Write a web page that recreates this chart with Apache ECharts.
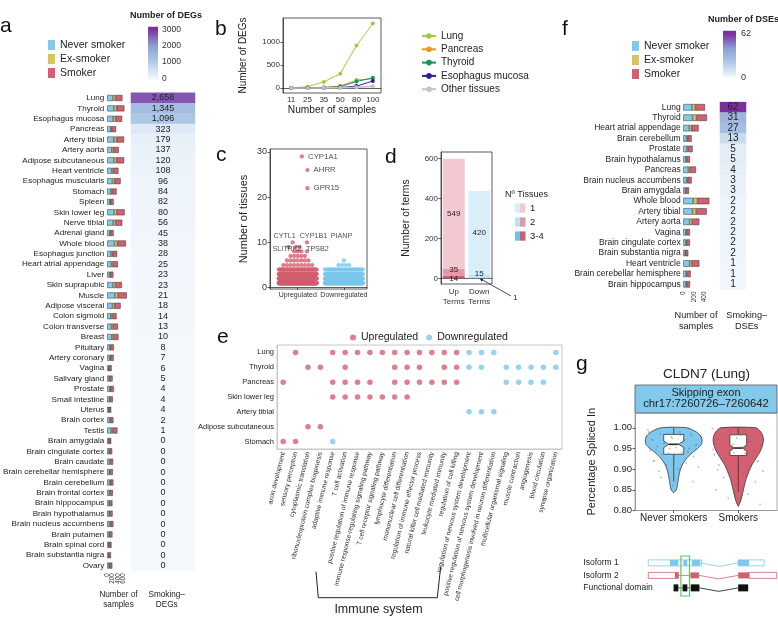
<!DOCTYPE html>
<html lang="en">
<head>
<meta charset="UTF-8">
<title>smoking DEGs / DSEs</title>
<script src="https://cdn.jsdelivr.net/npm/echarts@6/dist/echarts.min.js"></script>
<style>
  html, body { margin: 0; padding: 0; background: #fff; }
  #main { width: 778px; height: 618px; }
</style>
</head>
<body>
<div id="main"></div>
<script>
// ---------- data ----------
// a: smoking DEGs per tissue, samples per smoking status
var tissuesA = ['Lung','Thyroid','Esophagus mucosa','Pancreas','Artery tibial','Artery aorta','Adipose subcutaneous','Heart ventricle','Esophagus muscularis','Stomach','Spleen','Skin lower leg','Nerve tibial','Adrenal gland','Whole blood','Esophagus junction','Heart atrial appendage','Liver','Skin suprapubic','Muscle','Adipose visceral','Colon sigmoid','Colon transverse','Breast','Pituitary','Artery coronary','Vagina','Salivary gland','Prostate','Small intestine','Uterus','Brain cortex','Testis','Brain amygdala','Brain cingulate cortex','Brain caudate','Brain cerebellar hemisphere','Brain cerebellum','Brain frontal cortex','Brain hippocampus','Brain hypothalamus','Brain nucleus accumbens','Brain putamen','Brain spinal cord','Brain substantia nigra','Ovary'];
var degsA = [2656,1345,1096,323,179,137,120,108,96,84,82,80,56,45,38,28,25,23,23,21,18,14,13,10,8,7,6,5,4,4,4,2,1,0,0,0,0,0,0,0,0,0,0,0,0,0];
var neverA = [215,250,220,130,245,170,245,165,195,135,95,255,220,95,270,145,155,90,215,285,195,135,155,165,95,95,60,75,95,80,55,90,150,55,70,85,80,90,80,75,75,90,75,60,50,70];
var exA = [95,105,90,45,105,70,105,65,85,55,35,105,90,40,115,60,65,35,90,115,80,60,65,65,45,40,25,35,40,35,25,40,60,25,30,35,35,40,35,35,35,40,30,25,25,30];
var smokerA = [257,285,245,155,280,190,280,190,220,160,110,290,250,105,315,165,180,105,245,330,225,155,180,190,110,105,80,90,115,95,70,100,170,70,85,100,95,100,95,85,90,100,90,75,65,90];
var sampleTicksA = [0, 200, 400, 600];
var degTicks = [0, 1000, 2000, 3000];

// b: DEGs vs number of samples
var sampleSizes = ['11','25','35','50','80','100'];
var degLung = [0, 25, 130, 310, 920, 1400];
var degPancreas = [0, 5, 10, 40, 170, 200];
var degThyroid = [0, 5, 10, 30, 140, 220];
var degEsoMucosa = [0, 2, 5, 10, 40, 150];
var degOther = [0, 0, 2, 5, 15, 35];

// c: number of tissues per DEG (genes per tissue count, starting at 1 tissue)
var upGenesPerLevel = [520, 260, 130, 55, 9, 7, 5, 3, 2];
var downGenesPerLevel = [440, 220, 100, 40, 4];
var geneNames = ['CYP1A1','AHRR','GPR15','CYTL1','CYP1B1','SLITRK2','TPSB2','PIANP'];
var geneTissues = [29, 26, 22, 10, 10, 9, 8, 6];
var geneGroup = [1, 1, 1, 1, 1, 1, 1, 2];

// d: enriched terms by number of tissues
var termGroups = ['Up\nTerms', 'Down\nTerms'];
var terms1 = [549, 420];
var terms2 = [35, 15];
var terms34 = [14, 1];

// e: shared terms
var goTerms = ['axon development','sensory perception','cytoplasmic translation','ribonucleoprotein complex biogenesis','adaptive immune response','T cell activation','positive regulation of immune response','immune response-regulating signaling pathway','T cell receptor signaling pathway','lymphocyte differentiation','mononuclear cell differentiation','regulation of immune effector process','natural killer cell mediated immunity','leukocyte mediated immunity','regulation of cell killing','regulation of nervous system development','positive regulation of nervous system development','cell morphogenesis involved in neuron differentiation','multicellular organismal signaling','muscle contraction','angiogenesis','blood circulation','synapse organization'];
var goTissues = ['Lung','Thyroid','Pancreas','Skin lower leg','Artery tibial','Adipose subcutaneous','Stomach'];
var upTermHits = [[1,4,5,6,7,8,9,10,11,12,13,14],[2,3,5,9,10,11,13,14],[0,4,5,6,7,9,10,11,12,13,14],[4,5,6,7,8,9,10],[],[2,3],[0,1]];
var downTermHits = [[15,16,17,22],[15,16,18,19,20,21,22],[18,19,20,21],[],[15,16,17],[],[4]];

// f: smoking DSEs
var tissuesF = ['Lung','Thyroid','Heart atrial appendage','Brain cerebellum','Prostate','Brain hypothalamus','Pancreas','Brain nucleus accumbens','Brain amygdala','Whole blood','Artery tibial','Artery aorta','Vagina','Brain cingulate cortex','Brain substantia nigra','Heart ventricle','Brain cerebellar hemisphere','Brain hippocampus'];
var dsesF = [62,31,27,13,5,5,4,3,3,2,2,2,2,2,2,1,1,1];
var neverF = [165,175,115,60,70,50,95,60,40,190,175,120,50,48,35,120,55,50];
var exF = [65,75,45,25,25,20,35,25,18,80,70,50,20,20,15,45,22,20];
var smokerF = [183,200,132,74,83,57,111,74,50,225,200,135,57,59,45,140,63,57];
var sampleTicksF = [0, 200, 400];

// g: CLDN7 exon PSI
var groupsG = ['Never smokers', 'Smokers'];
var groupN = [159, 203];
var neverLevels = [1.0,0.99,0.98,0.97,0.96,0.95,0.94,0.93,0.92,0.91,0.90,0.89,0.88,0.87,0.86,0.85,0.843];
var neverHalf = [0.2,0.35,0.42,0.44,0.43,0.37,0.29,0.22,0.17,0.13,0.105,0.088,0.075,0.065,0.055,0.04,0];
var smokerLevels = [1.0,0.99,0.98,0.97,0.96,0.95,0.94,0.93,0.92,0.91,0.90,0.89,0.88,0.87,0.86,0.85,0.84,0.83,0.82,0.81];
var smokerHalf = [0.27,0.35,0.38,0.39,0.38,0.36,0.33,0.29,0.25,0.21,0.18,0.155,0.13,0.11,0.095,0.08,0.065,0.05,0.03,0];
// low whisker, q1, median, q3, high whisker
var boxStats = [[0.87, 0.936, 0.960, 0.984, 1.0], [0.845, 0.933, 0.951, 0.983, 1.0]];
var neverPsi = [0.995,0.99,0.985,0.98,0.975,0.97,0.97,0.965,0.96,0.96,0.955,0.95,0.95,0.945,0.94,0.935,0.93,0.925,0.92,0.915,0.91,0.905,0.90,0.895,0.985,0.978,0.972,0.968,0.962,0.958,0.952,0.948,0.942,0.938,0.99,0.982,0.88,0.87,0.86,0.92];
var smokerPsi = [0.998,0.992,0.986,0.98,0.975,0.97,0.966,0.962,0.958,0.954,0.95,0.946,0.94,0.935,0.93,0.925,0.92,0.915,0.91,0.905,0.9,0.895,0.89,0.88,0.87,0.86,0.85,0.84,0.83,0.815,0.988,0.978,0.968,0.96,0.948,0.938,0.928,0.918,0.908,0.898,0.965,0.955];

// g bottom: isoform sketch, [row, start, end, kind] kind 0 outline, 1 exon, 2 line, 3 intron
var isoformRows = ['Isoform 1', 'Isoform 2', 'Functional domain'];
var isoformParts = [
  [0, 0, 41.5, 0], [0, 16.9, 23.4, 1], [0, 27.3, 30.4, 1], [0, 33.9, 40.4, 1], [0, 40.4, 70, 3], [0, 70, 90.3, 0], [0, 70, 78.6, 1],
  [1, 0, 23.4, 0], [1, 20.8, 23.4, 1], [1, 23.4, 32.8, 2], [1, 32.8, 39.5, 1], [1, 39.5, 70, 3], [1, 70, 78.6, 1], [1, 78.6, 100, 0],
  [2, 23.4, 26.7, 2], [2, 30.4, 33.1, 2], [2, 39.8, 70, 3],
  [2, 19.7, 23.4, 1], [2, 26.7, 30.4, 1], [2, 33.1, 39.8, 1], [2, 70, 77.8, 1]
];
var skippedExon = [25.4, 32.1];

// ---------- styles ----------
var FONT = '"Liberation Sans", Arial, sans-serif';
var C_NEVER = '#7ecbee', C_EX = '#d8c35c', C_SMOKER = '#d45f70';
var C_UP = '#d45f70', C_DOWN = '#7cc8ee';
var heatColors = ['#f3f8fc', '#b0cbe8', '#8d9fd4', '#7d2fa0'];
var rowColors = ['#7cc8ee', '#d45f70', '#111'];
var dark = { color: '#333', width: 0.8 };

function withComma(v) { return String(v).replace(/\B(?=(\d{3})+(?!\d))/g, ','); }
function plain(v) { return String(v); }

var series = [];
function add(s) { series.push(s); return series.length - 1; }

function colorbar(axisIdx, lo, hi, max) {
  var stops = heatColors.map(function (c, i) {
    var v = max * (heatColors.length - 1 - i) / (heatColors.length - 1);
    return { offset: (hi - v) / (hi - lo), color: heatColors[heatColors.length - 1 - i] };
  });
  stops.unshift({ offset: 0, color: heatColors[heatColors.length - 1] });
  stops.push({ offset: 1, color: heatColors[0] });
  return {
    type: 'custom', xAxisIndex: axisIdx, yAxisIndex: axisIdx, silent: true, data: [[0, hi]],
    renderItem: function (params, api) {
      var t = api.coord([0, hi]), b = api.coord([0, lo]), w = api.size([1, 0])[0];
      return { type: 'rect', shape: { x: t[0] - w / 2, y: t[1], width: w, height: b[1] - t[1] },
        style: { fill: { type: 'linear', x: 0, y: 0, x2: 0, y2: 1, colorStops: stops } } };
    }
  };
}

// ---------- a ----------
[['Never smoker', neverA, C_NEVER], ['Ex-smoker', exA, C_EX], ['Smoker', smokerA, C_SMOKER]].forEach(function (s) {
  add({ type: 'bar', name: s[0], xAxisIndex: 0, yAxisIndex: 0, stack: 'sa', data: s[1], barWidth: 6, clip: false, silent: true,
    itemStyle: { color: s[2], borderColor: '#333', borderWidth: 0.5 } });
});
var heatA = add({ type: 'heatmap', xAxisIndex: 1, yAxisIndex: 1, silent: true,
  data: degsA.map(function (v, i) { return [0, i, v]; }),
  label: { show: true, fontSize: 9, color: '#222', fontFamily: FONT, formatter: function (p) { return withComma(p.value[2]); } } });
add(colorbar(2, -104, 3160, 3000));

// ---------- b ----------
[['Lung', degLung, '#9fcc3b'], ['Pancreas', degPancreas, '#e89a1c'], ['Thyroid', degThyroid, '#15955a'],
 ['Esophagus mucosa', degEsoMucosa, '#2e1d9c'], ['Other tissues', degOther, '#c4c4c4']].forEach(function (s) {
  add({ type: 'line', name: s[0], xAxisIndex: 3, yAxisIndex: 3, data: s[1], symbol: 'circle', symbolSize: 4,
    lineStyle: { width: s[0] === 'Other tissues' ? 1.6 : 1, color: s[2] }, itemStyle: { color: s[2] }, silent: true });
});

// ---------- c ----------
function swarmPoints(center, counts, firstLevel) {
  var pts = [];
  counts.forEach(function (n, k) {
    var span = Math.min((n - 1) * 0.078, 0.82);
    for (var i = 0; i < n; i++) {
      pts.push([n === 1 ? center : center - span / 2 + span * i / (n - 1), firstLevel + k]);
    }
  });
  return pts;
}
add({ type: 'scatter', xAxisIndex: 4, yAxisIndex: 4, data: swarmPoints(1, upGenesPerLevel, 1), symbolSize: 4.3,
  itemStyle: { color: C_UP }, silent: true, large: false });
add({ type: 'scatter', xAxisIndex: 4, yAxisIndex: 4, data: swarmPoints(2, downGenesPerLevel, 1), symbolSize: 4.3,
  itemStyle: { color: C_DOWN }, silent: true, large: false });
var geneDx = [0.09, 0.21, 0.21, -0.11, 0.2, -0.2, 0.2, 0];
var geneLabel = [
  { position: 'right', distance: 4 }, { position: 'right', distance: 4 }, { position: 'right', distance: 4 },
  { position: 'inside', offset: [-8, -6.4] }, { position: 'inside', offset: [6.5, -6.4] },
  { position: 'inside', offset: [-1.5, 2] }, { position: 'inside', offset: [10.5, -2.5] }, { position: 'inside', offset: [-2.4, -24.5] }
];
add({ type: 'scatter', xAxisIndex: 4, yAxisIndex: 4, symbolSize: 4.3, silent: true,
  data: geneNames.map(function (g, i) {
    return { name: g, value: [geneGroup[i] + geneDx[i], geneTissues[i]],
      itemStyle: { color: geneGroup[i] === 1 ? C_UP : C_DOWN },
      label: Object.assign({ show: true, formatter: g, fontSize: i < 3 ? 7.8 : 7.2, color: '#222', fontFamily: FONT }, geneLabel[i]) };
  }) });

// ---------- d ----------
var dLabelShift = { '1': [0, 0], '2': [0, -2.5], '3-4': [0, 2] };
[['1', terms1, ['#f4c8d0', '#d9eef9']], ['2', terms2, ['#e497a4', '#bde2f4']], ['3-4', terms34, ['#cf5d72', '#6fc1e8']]].reverse()
  .forEach(function (s) {
    add({ type: 'bar', name: 'n' + s[0], xAxisIndex: 5, yAxisIndex: 5, stack: 'terms', barWidth: '86%', silent: true,
      data: s[1].map(function (v, i) { return { value: v, itemStyle: { color: s[2][i] } }; }),
      label: { show: true, position: 'inside', offset: dLabelShift[s[0]], fontSize: 8, color: '#222', fontFamily: FONT,
        formatter: function (p) { return p.value > 1 ? p.value : ''; } } });
  });

// ---------- e ----------
function hits(list) {
  var out = [];
  list.forEach(function (cols, r) { cols.forEach(function (c) { out.push([c, r]); }); });
  return out;
}
add({ type: 'scatter', name: 'Upregulated', xAxisIndex: 6, yAxisIndex: 6, data: hits(upTermHits), symbolSize: 5.5,
  itemStyle: { color: C_UP }, silent: true });
add({ type: 'scatter', name: 'Downregulated', xAxisIndex: 6, yAxisIndex: 6, data: hits(downTermHits), symbolSize: 5.5,
  itemStyle: { color: C_DOWN }, silent: true });

// ---------- f ----------
[['Never smoker', neverF, C_NEVER], ['Ex-smoker', exF, C_EX], ['Smoker', smokerF, C_SMOKER]].forEach(function (s) {
  add({ type: 'bar', name: s[0], xAxisIndex: 7, yAxisIndex: 7, stack: 'sf', data: s[1], barWidth: 6.5, clip: false, silent: true,
    itemStyle: { color: s[2], borderColor: '#333', borderWidth: 0.5 } });
});
var heatF = add({ type: 'heatmap', xAxisIndex: 8, yAxisIndex: 8, silent: true,
  data: dsesF.map(function (v, i) { return [0, i, v]; }),
  label: { show: true, fontSize: 10, color: '#222', fontFamily: FONT } });
add(colorbar(9, 0, 66.7, 62));

// ---------- g ----------
var violinData = [[neverLevels, neverHalf, C_DOWN], [smokerLevels, smokerHalf, C_SMOKER]];
add({ type: 'custom', xAxisIndex: 10, yAxisIndex: 10, silent: true,
  data: groupsG.map(function (g, i) { return [i + 1, boxStats[i][2]]; }),
  renderItem: function (params, api) {
    var v = violinData[params.dataIndex], c = params.dataIndex + 1, left = [], right = [];
    for (var i = 0; i < v[0].length; i++) {
      left.push(api.coord([c - v[1][i], v[0][i]]));
      right.push(api.coord([c + v[1][i], v[0][i]]));
    }
    return { type: 'polygon', shape: { points: left.concat(right.reverse()), smooth: 0.25 },
      style: { fill: v[2], stroke: '#333', lineWidth: 0.8 } };
  } });
var boxHalf = [0.155, 0.13];
add({ type: 'custom', xAxisIndex: 10, yAxisIndex: 10, silent: true,
  data: groupsG.map(function (g, i) { return [i + 1, boxStats[i][2]]; }),
  renderItem: function (params, api) {
    var i = params.dataIndex, c = i + 1, s = boxStats[i], w = boxHalf[i], n = 0.008;
    var L = c - w, R = c + w, P = function (x, y) { return api.coord([x, y]); };
    var box = [P(L, s[1]), P(L, s[2] - n), P(L + w / 2, s[2]), P(L, s[2] + n), P(L, s[3]),
      P(R, s[3]), P(R, s[2] + n), P(R - w / 2, s[2]), P(R, s[2] - n), P(R, s[1])];
    var st = { stroke: '#333', lineWidth: 0.8 };
    return { type: 'group', children: [
      { type: 'line', shape: { x1: P(c, s[3])[0], y1: P(c, s[3])[1], x2: P(c, s[4])[0], y2: P(c, s[4])[1] }, style: st },
      { type: 'line', shape: { x1: P(c, s[1])[0], y1: P(c, s[1])[1], x2: P(c, s[0])[0], y2: P(c, s[0])[1] }, style: st },
      { type: 'polygon', shape: { points: box }, style: { fill: '#fff', stroke: '#333', lineWidth: 0.8 } },
      { type: 'line', shape: { x1: box[2][0], y1: box[2][1], x2: box[7][0], y2: box[7][1] }, style: { stroke: '#222', lineWidth: 1.6 } }
    ] };
  } });
function jitter(vals, c) {
  return vals.map(function (v, i) { return [c + (((i * 0.618034) % 1) - 0.5) * 0.8, v]; });
}
add({ type: 'scatter', xAxisIndex: 10, yAxisIndex: 10, symbolSize: 1.8, silent: true,
  itemStyle: { color: 'rgba(110,110,110,0.6)' }, data: jitter(neverPsi, 1).concat(jitter(smokerPsi, 2)) });
add({ type: 'scatter', xAxisIndex: 10, yAxisIndex: 10, symbol: 'none', silent: true,
  data: groupN.map(function (n, i) { return { value: [i + 1, 1.023], label: { show: true, position: 'inside',
    formatter: 'N = ' + n, fontSize: 10, color: '#222', fontFamily: FONT } }; }) });

// isoform sketch
add({ type: 'custom', xAxisIndex: 11, yAxisIndex: 11, silent: true,
  data: isoformParts.map(function (d) { return [d[1], d[0]]; }),
  renderItem: function (params, api) {
    var d = isoformParts[params.dataIndex], row = d[0], col = rowColors[row];
    var p0 = api.coord([d[1], row]), p1 = api.coord([d[2], row]);
    var h = api.size([0, row === 2 ? 0.56 : 0.48])[1];
    if (d[3] === 0) return { type: 'rect', shape: { x: p0[0], y: p0[1] - h / 2, width: p1[0] - p0[0], height: h },
      style: { fill: '#fff', stroke: col, lineWidth: 0.8 } };
    if (d[3] === 1) return { type: 'rect', shape: { x: p0[0], y: p0[1] - h / 2, width: p1[0] - p0[0], height: h },
      style: { fill: col } };
    if (d[3] === 2) return { type: 'line', shape: { x1: p0[0], y1: p0[1], x2: p1[0], y2: p1[1] },
      style: { stroke: col, lineWidth: 0.8 } };
    var mid = api.coord([(d[1] + d[2]) / 2, row + 0.28]);
    return { type: 'polyline', shape: { points: [p0, mid, p1] }, style: { stroke: col, lineWidth: 0.8, fill: null } };
  } });
add({ type: 'custom', xAxisIndex: 11, yAxisIndex: 11, silent: true, data: [[skippedExon[0], 0]],
  renderItem: function (params, api) {
    var a = api.coord([skippedExon[0], -0.55]), b = api.coord([skippedExon[1], 2.65]);
    return { type: 'rect', shape: { x: a[0], y: a[1], width: b[0] - a[0], height: b[1] - a[1] },
      style: { fill: null, stroke: '#5cc65c', lineWidth: 1.2 } };
  } });

// ---------- axes ----------
function hideAxis(extra) {
  return Object.assign({ axisLine: { show: false }, axisTick: { show: false }, axisLabel: { show: false }, splitLine: { show: false } }, extra);
}
var xAxes = [
  // tick labels of this narrow axis are drawn below (rotated text at the axis' own pixel positions)
  { gridIndex: 0, type: 'value', min: 0, max: 600, splitLine: { show: false },
    axisLine: { lineStyle: dark }, axisTick: { customValues: sampleTicksA, length: 2, lineStyle: dark },
    axisLabel: { show: false } },
  hideAxis({ gridIndex: 1, type: 'category', data: ['DEGs'] }),
  hideAxis({ gridIndex: 2, type: 'category', data: [''] }),
  { gridIndex: 3, type: 'category', data: sampleSizes, axisLine: { lineStyle: dark },
    axisTick: { alignWithLabel: true, interval: 0, length: 2.5, lineStyle: dark },
    axisLabel: { interval: 0, fontSize: 8, margin: 3, color: '#333' },
    name: 'Number of samples', nameLocation: 'middle', nameGap: 11, nameTextStyle: { fontSize: 10.2, color: '#222' } },
  { gridIndex: 4, type: 'value', min: 0.4, max: 2.5, splitLine: { show: false }, axisLine: { lineStyle: dark },
    axisTick: { customValues: [1, 2], length: 2.5, lineStyle: dark },
    axisLabel: { customValues: [1, 2], fontSize: 7, margin: 3, color: '#333',
      formatter: function (v) { return v < 1.5 ? 'Upregulated' : 'Downregulated'; } } },
  { gridIndex: 5, type: 'category', data: termGroups, axisLine: { lineStyle: dark },
    axisTick: { alignWithLabel: true, interval: 0, length: 2.5, lineStyle: dark },
    axisLabel: { interval: 0, fontSize: 8, lineHeight: 10, margin: 3, color: '#333' } },
  { gridIndex: 6, type: 'category', data: goTerms, axisLine: { lineStyle: { color: '#c8c8c8' } },
    axisTick: { alignWithLabel: true, interval: 0, length: 2.5, lineStyle: { color: '#888' } },
    axisLabel: { rotate: 76, interval: 0, fontSize: 6.6, margin: 3, color: '#333' } },
  { gridIndex: 7, type: 'value', min: 0, max: 400, splitLine: { show: false },
    axisLine: { lineStyle: dark }, axisTick: { customValues: sampleTicksF, length: 2, lineStyle: dark },
    axisLabel: { customValues: sampleTicksF, rotate: 90, fontSize: 6.5, lineHeight: 5, margin: 2, color: '#333', formatter: plain,
      showMinLabel: true, showMaxLabel: true, hideOverlap: false } },
  hideAxis({ gridIndex: 8, type: 'category', data: ['DSEs'] }),
  hideAxis({ gridIndex: 9, type: 'category', data: [''] }),
  { gridIndex: 10, type: 'value', min: 0.4, max: 2.6, splitLine: { show: false }, axisLine: { lineStyle: { color: '#999' } },
    axisTick: { customValues: [1, 2], length: 2.5, lineStyle: dark },
    axisLabel: { customValues: [1, 2], fontSize: 10, margin: 3, color: '#222',
      formatter: function (v) { return v < 1.5 ? groupsG[0] : groupsG[1]; } } },
  hideAxis({ gridIndex: 11, type: 'value', min: 0, max: 100 })
];
var yAxes = [
  { gridIndex: 0, type: 'category', data: tissuesA, inverse: true, axisLine: { show: false }, axisTick: { show: false },
    axisLabel: { interval: 0, fontSize: 8.1, margin: 3, color: '#222' } },
  hideAxis({ gridIndex: 1, type: 'category', data: tissuesA, inverse: true }),
  { gridIndex: 2, type: 'value', min: -104, max: 3160, position: 'right', z: 10, splitLine: { show: false },
    axisLine: { show: false }, axisTick: { customValues: degTicks, inside: true, length: 3, lineStyle: { color: '#fff' } },
    axisLabel: { customValues: degTicks, fontSize: 8.5, margin: 4, color: '#333', formatter: plain } },
  { gridIndex: 3, type: 'value', min: -110, max: 1520, splitLine: { show: false }, axisLine: { show: true, lineStyle: dark },
    axisTick: { show: true, customValues: [0, 500, 1000], length: 2.5, lineStyle: dark },
    axisLabel: { customValues: [0, 500, 1000], fontSize: 8, margin: 3, color: '#333', formatter: plain },
    name: 'Number of DEGs', nameLocation: 'middle', nameGap: 35, nameTextStyle: { fontSize: 10, color: '#222' } },
  { gridIndex: 4, type: 'value', min: -0.3, max: 30.65, splitLine: { show: false }, axisLine: { show: true, lineStyle: dark },
    axisTick: { show: true, customValues: [0, 10, 20, 30], length: 2.5, lineStyle: dark },
    axisLabel: { customValues: [0, 10, 20, 30], fontSize: 9, margin: 3, color: '#333' },
    name: 'Number of tissues', nameLocation: 'middle', nameGap: 21, nameTextStyle: { fontSize: 11, color: '#222' } },
  { gridIndex: 5, type: 'value', min: -28.5, max: 631.5, splitLine: { show: false }, axisLine: { show: true, lineStyle: dark },
    axisTick: { show: true, customValues: [0, 200, 400, 600], length: 2.5, lineStyle: dark },
    axisLabel: { customValues: [0, 200, 400, 600], fontSize: 8, margin: 3, color: '#333' },
    name: 'Number of terms', nameLocation: 'middle', nameGap: 30, nameTextStyle: { fontSize: 10.4, color: '#222' } },
  { gridIndex: 6, type: 'category', data: goTissues, inverse: true, axisLine: { lineStyle: { color: '#c8c8c8' } },
    axisTick: { alignWithLabel: true, interval: 0, length: 2.5, lineStyle: { color: '#888' } },
    axisLabel: { interval: 0, fontSize: 7.5, margin: 3, color: '#222' } },
  { gridIndex: 7, type: 'category', data: tissuesF, inverse: true, axisLine: { show: false }, axisTick: { show: false },
    axisLabel: { interval: 0, fontSize: 8.5, margin: 2.6, color: '#222' } },
  hideAxis({ gridIndex: 8, type: 'category', data: tissuesF, inverse: true }),
  { gridIndex: 9, type: 'value', min: 0, max: 66.7, position: 'right', z: 10, splitLine: { show: false },
    axisLine: { show: false }, axisTick: { customValues: [62], inside: true, length: 3, lineStyle: { color: '#fff' } },
    axisLabel: { customValues: [0, 62], fontSize: 9, margin: 5, color: '#333' } },
  { gridIndex: 10, type: 'value', min: 0.8, max: 1.0357, splitLine: { show: false }, axisLine: { show: true, lineStyle: { color: '#999' } },
    axisTick: { show: true, customValues: [0.8, 0.85, 0.9, 0.95, 1.0], length: 2.5, lineStyle: dark },
    axisLabel: { customValues: [0.8, 0.85, 0.9, 0.95, 1.0], fontSize: 9.5, margin: 3, color: '#222',
      formatter: function (v) { return v.toFixed(2); } },
    name: 'Percentage Spliced In', nameLocation: 'middle', nameGap: 38, nameTextStyle: { fontSize: 11, color: '#222' } },
  { gridIndex: 11, type: 'value', min: -0.55, max: 2.65, inverse: true, splitLine: { show: false },
    axisLine: { show: false }, axisTick: { show: false },
    axisLabel: { customValues: [0, 1, 2], align: 'left', margin: 65, fontSize: 8.5, color: '#222',
      formatter: function (v) { return isoformRows[Math.round(v)]; } } }
];

var grids = [
  { left: 105, top: 92.8, width: 18.3, height: 478 },
  { left: 131, top: 92.8, width: 64, height: 478 },
  { left: 148, top: 26.7, width: 10, height: 53.3 },
  { left: 283, top: 18, width: 98, height: 75, show: true, borderColor: '#333', borderWidth: 0.8 },
  { left: 270, top: 149, width: 97, height: 140, show: true, borderColor: '#333', borderWidth: 0.8 },
  { left: 441, top: 152, width: 51, height: 132, show: true, borderColor: '#333', borderWidth: 0.8 },
  { left: 277, top: 345, width: 285, height: 104, show: true, borderColor: '#c8c8c8', borderWidth: 1 },
  { left: 683.3, top: 102.1, width: 21, height: 187.4 },
  { left: 720, top: 102.1, width: 26, height: 187.4 },
  { left: 723, top: 30.7, width: 13, height: 46.6 },
  { left: 635, top: 413, width: 142, height: 97.5, show: true, borderColor: '#999', borderWidth: 0.8 },
  { left: 648.3, top: 556, width: 128.4, height: 40 }
];

var smokeLegend = { orient: 'vertical', icon: 'rect', itemWidth: 7, itemHeight: 10, itemGap: 2, selectedMode: false,
  data: ['Never smoker', 'Ex-smoker', 'Smoker'], itemStyle: { borderWidth: 0 },
  textStyle: { fontSize: 10.5, lineHeight: 12, color: '#222', fontFamily: FONT } };

var option = {
  animation: false,
  textStyle: { fontFamily: FONT },
  grid: grids,
  xAxis: xAxes,
  yAxis: yAxes,
  visualMap: [
    { type: 'continuous', show: false, seriesIndex: heatA, dimension: 2, min: 0, max: 3000, inRange: { color: heatColors } },
    { type: 'continuous', show: false, seriesIndex: heatF, dimension: 2, min: 0, max: 62, inRange: { color: heatColors } }
  ],
  legend: [
    Object.assign({ left: 43, top: 34 }, smokeLegend),
    Object.assign({ left: 627, top: 35 }, smokeLegend),
    { left: 416, top: 25, orient: 'vertical', itemWidth: 14, itemHeight: 7, itemGap: 1.3, selectedMode: false,
      data: ['Lung', 'Pancreas', 'Thyroid', 'Esophagus mucosa', 'Other tissues'],
      textStyle: { fontSize: 10, lineHeight: 12, color: '#222', fontFamily: FONT } },
    { left: 345, top: 327, orient: 'horizontal', icon: 'circle', itemWidth: 6, itemHeight: 6, itemGap: 8, selectedMode: false,
      data: ['Upregulated', 'Downregulated'], textStyle: { fontSize: 10.5, color: '#222', fontFamily: FONT } }
  ],
  series: series
};

var chart = echarts.init(document.getElementById('main'));
chart.setOption(option);

// ---------- annotations ----------
function txt(x, y, s, size, extra) {
  return { type: 'text', x: x, y: y, silent: true,
    style: Object.assign({ text: s, fill: '#222', font: (extra && extra.weight ? extra.weight + ' ' : '') + size + 'px ' + FONT,
      align: (extra && extra.align) || 'left', verticalAlign: (extra && extra.va) || 'middle', lineHeight: extra && extra.lh }) };
}
var letterFont = '21px "Liberation Sans", Arial, sans-serif';
var letters = [['a', 0, 16], ['b', 215, 18.3], ['c', 216, 145], ['d', 385, 146.7], ['e', 217, 326.7], ['f', 562, 18.3], ['g', 576, 354]];
var graphics = letters.map(function (l) {
  return { type: 'text', x: l[1], y: l[2], silent: true, style: { text: l[0], font: letterFont, fill: '#111', verticalAlign: 'alphabetic' } };
});
// rotated tick labels of the panel a sample axis, placed by the axis scale
var axisBottomA = chart.convertToPixel({ xAxisIndex: 0, yAxisIndex: 0 }, [0, tissuesA[tissuesA.length - 1]])[1] + 5.2;
sampleTicksA.forEach(function (v) {
  var px = chart.convertToPixel({ xAxisIndex: 0 }, v);
  graphics.push({ type: 'text', x: px, y: axisBottomA + 2.5, rotation: Math.PI / 2, silent: true,
    style: { text: String(v), font: '6.3px ' + FONT, fill: '#333', align: 'right', verticalAlign: 'middle' } });
});
graphics.push(txt(130, 15.5, 'Number of DEGs', 9, { weight: 'bold' }));
graphics.push(txt(708, 19.5, 'Number of DSEs', 9, { weight: 'bold' }));
graphics.push(txt(118.5, 589, 'Number of\nsamples', 8.2, { align: 'center', va: 'top', lh: 10.5 }));
graphics.push(txt(166.7, 589, 'Smoking\u2013\nDEGs', 8.2, { align: 'center', va: 'top', lh: 10.5 }));
graphics.push(txt(696, 309.5, 'Number of\nsamples', 9.2, { align: 'center', va: 'top', lh: 11 }));
graphics.push(txt(746.7, 309.5, 'Smoking\u2013\nDSEs', 9.2, { align: 'center', va: 'top', lh: 11 }));

// d legend
graphics.push(txt(505, 195, 'N\u00ba Tissues', 9));
[['1', '#d9eef9', '#f4c8d0', 208], ['2', '#bde2f4', '#e497a4', 222], ['3-4', '#6fc1e8', '#cf5d72', 236]].forEach(function (r) {
  graphics.push({ type: 'rect', silent: true, shape: { x: 515, y: r[3] - 4.6, width: 5, height: 9.3 }, style: { fill: r[1] } });
  graphics.push({ type: 'rect', silent: true, shape: { x: 520, y: r[3] - 4.6, width: 5.5, height: 9.3 }, style: { fill: r[2] } });
  graphics.push(txt(530, r[3], r[0], 9.5));
});
// d arrow to the single 3-4 tissue down term
var tip = chart.convertToPixel({ xAxisIndex: 5, yAxisIndex: 5 }, [termGroups[1], terms34[1]]);
var from = [511, 296];
var dx = tip[0] - from[0], dy = tip[1] - from[1], len = Math.sqrt(dx * dx + dy * dy), ux = dx / len, uy = dy / len;
graphics.push({ type: 'line', silent: true, shape: { x1: from[0], y1: from[1], x2: tip[0], y2: tip[1] }, style: { stroke: '#222', lineWidth: 0.8 } });
graphics.push({ type: 'polygon', silent: true, shape: { points: [tip,
  [tip[0] - ux * 4 - uy * 1.8, tip[1] - uy * 4 + ux * 1.8], [tip[0] - ux * 4 + uy * 1.8, tip[1] - uy * 4 - ux * 1.8]] }, style: { fill: '#222' } });
graphics.push(txt(513, 298, String(terms34[1]), 8));

// e bracket
graphics.push({ type: 'polyline', silent: true, shape: { points: [[316, 571.7], [318.3, 597.7], [437.3, 597.7], [440.7, 566.7]] },
  style: { stroke: '#222', lineWidth: 1, fill: null } });
graphics.push(txt(378.5, 610, 'Immune system', 12.5, { align: 'center' }));

// g title and strip
graphics.push(txt(706.5, 374, 'CLDN7 (Lung)', 13.5, { align: 'center' }));
graphics.push({ type: 'rect', silent: true, shape: { x: 635, y: 385, width: 142, height: 28 }, style: { fill: '#82c9ec', stroke: '#555', lineWidth: 0.8 } });
graphics.push(txt(706, 392.7, 'Skipping exon', 11, { align: 'center' }));
graphics.push(txt(706, 404.3, 'chr17:7260726\u20137260642', 11.3, { align: 'center' }));

chart.setOption({ graphic: graphics });
</script>
</body>
</html>
